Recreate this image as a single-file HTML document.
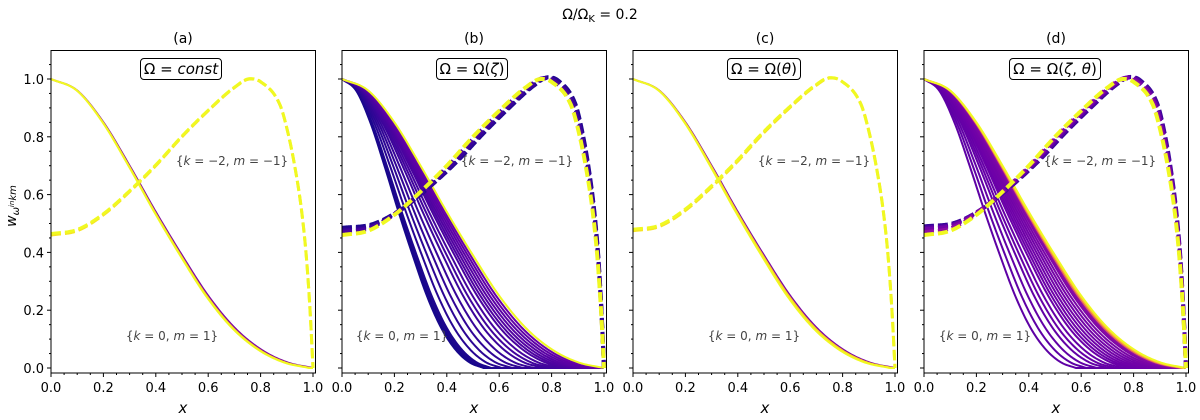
<!DOCTYPE html>
<html><head><meta charset="utf-8">
<style>
body{margin:0;background:#fff;}
svg{display:block;font-family:"DejaVu Sans","Liberation Sans",sans-serif;}
</style></head>
<body>
<svg id="chart" width="1200" height="420" viewBox="0 0 1200 420" xmlns="http://www.w3.org/2000/svg">
<text x="600" y="19" text-anchor="middle" font-size="14">Ω/Ω<tspan font-size="10" dy="3">K</tspan><tspan dy="-3"> = 0.2</tspan></text>
<text x="6" y="0" transform="translate(16,212) rotate(-90)" text-anchor="middle" font-size="14" font-style="italic">w<tspan font-size="10" dy="3">ω</tspan><tspan font-size="7" dy="-5">in</tspan><tspan font-size="10" dy="2">km</tspan></text>
</svg>
<script>
// base profiles
const solidX = [0,0.1,0.2,0.3,0.4,0.5,0.6,0.7,0.8,0.9,1.0];
const solidY = [1.0,0.96,0.85,0.70,0.54,0.39,0.25,0.14,0.065,0.02,0.0];
const dashX = [0,0.1,0.2,0.3,0.4,0.5,0.6,0.7,0.76,0.8,0.874,0.9,0.93,0.957,0.975,0.989,1.0];
const dashY = [0.46,0.475,0.53,0.61,0.70,0.80,0.89,0.97,1.0,0.99,0.91,0.83,0.70,0.54,0.38,0.195,0.0];
const panelNames = ["(a)","(b)","(c)","(d)"];
const panelTitles = ["Ω = <i>const</i>","Ω = Ω(<i>ζ</i>)","Ω = Ω(<i>θ</i>)","Ω = Ω(<i>ζ</i>, <i>θ</i>)"];
const solidScaleA = [1.0,0.99,0.985];
const solidColA = [0.25,0.9,1.0];
const solidScaleB = [0.54,0.55,0.56,0.57,0.61,0.65,0.69,0.73,0.77,0.8,0.83,0.86,0.88,0.9,0.92,0.94,0.96,0.98,1.0];
const solidColB = [0.02,0.02,0.03,0.03,0.05,0.06,0.07,0.08,0.09,0.1,0.11,0.12,0.13,0.14,0.15,0.16,0.17,0.2,1.0];
const solidScaleC = [1.0,0.99,0.98];
const solidColC = [0.25,0.9,1.0];
const solidScaleD = [0.58,0.62,0.66,0.7,0.73,0.76,0.79,0.81,0.83,0.85,0.87,0.89,0.91,0.93,0.95,0.96,0.97,0.98,0.99,1.0];
const solidColD = [0.17,0.17,0.18,0.18,0.19,0.19,0.2,0.2,0.21,0.21,0.22,0.22,0.23,0.24,0.25,0.27,0.3,0.6,0.85,1.0];
const dashWarpA = [1.0,1.0];
const dashLiftA = [0.0,0.005];
const dashColA = [0.95,1.0];
const dashWarpB = [0.85,0.87,0.9,0.95,1.0];
const dashLiftB = [0.025,0.02,0.015,0.01,0.0];
const dashColB = [0.03,0.05,0.08,0.12,1.0];
const dashWarpC = [1.03,1.04];
const dashLiftC = [0.015,0.02];
const dashColC = [0.95,1.0];
const dashWarpD = [0.85,0.88,0.92,0.96,1.0];
const dashLiftD = [0.03,0.025,0.02,0.01,0.0];
const dashColD = [0.08,0.15,0.22,0.3,1.0];
const xTicks = ["0.0","0.2","0.4","0.6","0.8","1.0"];
const yTicks = ["0.0","0.2","0.4","0.6","0.8","1.0"];

const panels = [
 {ss:solidScaleA,sc:solidColA,dw:dashWarpA,dl:dashLiftA,dc:dashColA,k2:[232,160],k0:[172,335],box:181,dwid:3},
 {ss:solidScaleB,sc:solidColB,dw:dashWarpB,dl:dashLiftB,dc:dashColB,k2:[517,160],k0:[402,335],box:472,dwid:4},
 {ss:solidScaleC,sc:solidColC,dw:dashWarpC,dl:dashLiftC,dc:dashColC,k2:[814,160],k0:[754,335],box:764,dwid:3},
 {ss:solidScaleD,sc:solidColD,dw:dashWarpD,dl:dashLiftD,dc:dashColD,k2:[1100,160],k0:[985,335],box:1055,dwid:4}
];
const plasma=[[13,8,135],[65,4,157],[106,0,168],[143,13,164],[177,42,144],[204,71,120],[225,100,98],[242,132,75],[252,166,54],[252,206,37],[240,249,33]];
function cmap(t){t=Math.max(0,Math.min(1,t))*10;const i=Math.min(9,Math.floor(t)),f=t-i;const a=plasma[i],b=plasma[i+1];
 return 'rgb('+a.map((v,j)=>Math.round(v+(b[j]-v)*f)).join(',')+')';}
function slopes(xs,ys){const n=xs.length,d=[],m=[];for(let i=0;i<n-1;i++)d.push((ys[i+1]-ys[i])/(xs[i+1]-xs[i]));
 m[0]=d[0];m[n-1]=d[n-2];for(let i=1;i<n-1;i++){m[i]=(d[i-1]*d[i]<=0)?0:(d[i-1]+d[i])/2;}
 for(let i=0;i<n-1;i++){if(d[i]===0){m[i]=0;m[i+1]=0;continue;}const a=m[i]/d[i],b=m[i+1]/d[i],s=a*a+b*b;if(s>9){const t=3/Math.sqrt(s);m[i]=t*a*d[i];m[i+1]=t*b*d[i];}}
 return m;}
const mS=slopes(solidX,solidY), mD=slopes(dashX,dashY);
function interp(xs,ys,ms,x){ if(x<=xs[0])return ys[0]; if(x>=xs[xs.length-1])return ys[ys.length-1];
 let i=0; while(x>xs[i+1])i++;
 const h=xs[i+1]-xs[i];const t=(x-xs[i])/h,t2=t*t,t3=t2*t;
 return (2*t3-3*t2+1)*ys[i]+(t3-2*t2+t)*h*ms[i]+(-2*t3+3*t2)*ys[i+1]+(t3-t2)*h*ms[i+1];}
const svg=document.getElementById('chart');
const NS='http://www.w3.org/2000/svg';
function mk(tag,attrs){const e=document.createElementNS(NS,tag);for(const k in attrs)e.setAttribute(k,attrs[k]);return e;}
const W=262,Y0=368,H=289;
panels.forEach((p,pi)=>{
 const L=51+291*pi;
 const sx=x=>L+W*x, sy=y=>Y0-H*y;
 const g=mk('g',{});   svg.appendChild(g);
 const clipId='clip'+pi;
 const cp=mk('clipPath',{id:clipId}); cp.appendChild(mk('rect',{x:L,y:50.5,width:264.5,height:322.5})); g.appendChild(cp);
 const lines=mk('g',{'clip-path':'url(#'+clipId+')'}); g.appendChild(lines);
 p.ss.forEach((s,i)=>{let d='';for(let k=0;k<=200;k++){const x=k/200;const xx=x/s;const y=xx>=1?0:interp(solidX,solidY,mS,xx);d+=(k?'L':'M')+sx(x).toFixed(2)+','+sy(y).toFixed(2);}
  const pa=mk('path',{d:d,fill:'none',stroke:cmap(p.sc[i]),'stroke-width':2});
    lines.appendChild(pa);});
 p.dw.forEach((w,i)=>{let d='';for(let k=0;k<=400;k++){const x=k/400;const xp=Math.min(1,x*w/(1+(w-1)*x));let y=interp(dashX,dashY,mD,xp)+p.dl[i]*(1-xp);if(k===400)y=0;d+=(k?'L':'M')+sx(x).toFixed(2)+','+sy(y).toFixed(2);}
  const pa=mk('path',{d:d,fill:'none',stroke:cmap(p.dc[i]),'stroke-width':p.dwid,'stroke-dasharray':'10,4'});
    lines.appendChild(pa);});
 const fr=mk('rect',{x:L,y:50.5,width:264.5,height:322.5,fill:'none',stroke:'#000','stroke-width':1});
   g.appendChild(fr);
 for(let k=0;k<=20;k++){const x=k/20;const maj=k%4===0;g.appendChild(mk('line',{x1:sx(x),x2:sx(x),y1:373,y2:373+(maj?4:2),stroke:'#000','stroke-width':1}));}
 for(let k=0;k<=21;k++){const y=k/20;const maj=k%4===0;g.appendChild(mk('line',{x1:L,x2:L-(maj?4:2),y1:sy(y),y2:sy(y),stroke:'#000','stroke-width':1}));}
 xTicks.forEach((t,i)=>{const tx=mk('text',{x:sx(i*0.2),y:392,'text-anchor':'middle','font-size':13});tx.textContent=t;
    g.appendChild(tx);});
 if(pi===0) yTicks.forEach((t,i)=>{const tx=mk('text',{x:L-7,y:sy(i*0.2)+5,'text-anchor':'end','font-size':13});tx.textContent=t;
    g.appendChild(tx);});
 const xl=mk('text',{x:L+132,y:413,'text-anchor':'middle','font-size':15,'font-style':'italic'});xl.textContent='x';
   g.appendChild(xl);
 const pn=mk('text',{x:L+132,y:43,'text-anchor':'middle','font-size':14});pn.textContent=panelNames[pi];
   g.appendChild(pn);
 const fo=mk('foreignObject',{x:p.box-60,y:58,width:120,height:26});
 fo.innerHTML='<div xmlns="http://www.w3.org/1999/xhtml" style="text-align:center"><span style="display:inline-block;border:1.5px solid #000;border-radius:4px;padding:0 3px;font:15px \'DejaVu Sans\',sans-serif;line-height:20px;background:#fff">'+panelTitles[pi]+'</span></div>';
   g.appendChild(fo);
 const a2=mk('text',{x:p.k2[0],y:p.k2[1]+5,'text-anchor':'middle','font-size':12,fill:'#444'});a2.innerHTML='{<tspan font-style="italic">k</tspan> = −2, <tspan font-style="italic">m</tspan> = −1}';
   g.appendChild(a2);
 const a0=mk('text',{x:p.k0[0],y:p.k0[1]+5,'text-anchor':'middle','font-size':12,fill:'#444'});a0.innerHTML='{<tspan font-style="italic">k</tspan> = 0, <tspan font-style="italic">m</tspan> = 1}';
   g.appendChild(a0);
});
</script>
</body></html>
